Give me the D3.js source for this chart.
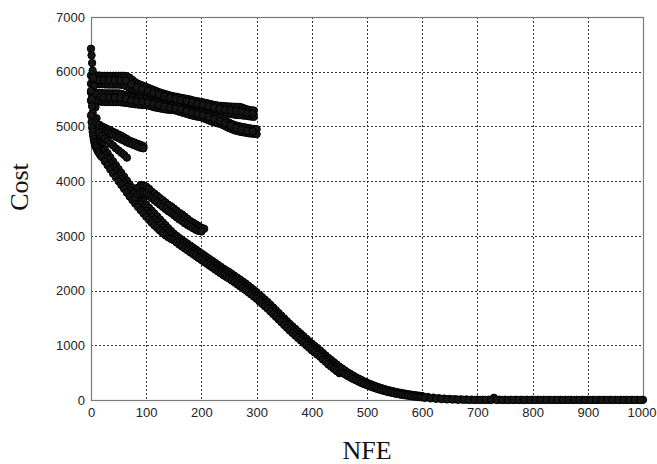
<!DOCTYPE html>
<html>
<head>
<meta charset="utf-8">
<script src="https://d3js.org/d3.v7.min.js"></script>
<style>
  body { margin: 0; background: #fff; }
  svg { display: block; }
  .tick text { font-family: Arial, 'Liberation Sans', sans-serif; font-size: 13px; fill: #222; }
  .label { font-family: 'Times New Roman', 'Liberation Serif', serif; font-size: 26px; fill: #111; }
</style>
</head>
<body>
<svg id="chart" width="657" height="464"></svg>
<script>
  var xTicks = [0, 100, 200, 300, 400, 500, 600, 700, 800, 900, 1000]
  var yTicks = [0, 1000, 2000, 3000, 4000, 5000, 6000, 7000]

  // main descending runs (NFE shared)
  var nfeMain = [0, 1, 2, 3, 4, 5, 6, 7, 8, 10, 12, 14, 16, 18, 20,
    25, 30, 35, 40, 45, 50, 55, 60, 65, 70,
    75, 80, 85, 90, 95, 100, 105, 110, 115, 120,
    125, 130, 135, 140, 145, 150, 155, 160, 165, 170,
    175, 180, 185, 190, 195, 200, 205, 210, 215, 220,
    225, 230, 235, 240, 245, 250, 255, 260, 265, 270,
    275, 280, 285, 290, 295, 300, 305, 310, 315, 320,
    325, 330, 335, 340, 345, 350, 355, 360, 365, 370,
    375, 380, 385, 390, 395, 400, 405, 410, 415, 420,
    425, 430, 435, 440, 445, 450]
  var costMainA = [6420, 6300, 6160, 6020, 5880, 5740, 5600, 5470, 5350, 5150, 5000, 4890, 4800, 4730, 4660,
    4585, 4510, 4435, 4360, 4290, 4220, 4150, 4080, 4010, 3940,
    3875, 3810, 3750, 3690, 3630, 3570, 3515, 3460, 3405, 3355,
    3300, 3245, 3195, 3140, 3090, 3040, 3000, 2960, 2925, 2890,
    2855, 2820, 2785, 2750, 2715, 2680, 2645, 2610, 2575, 2540,
    2505, 2470, 2435, 2400, 2370, 2340, 2305, 2270, 2235, 2200,
    2165, 2130, 2090, 2050, 2010, 1970, 1925, 1880, 1835, 1790,
    1740, 1690, 1640, 1590, 1540, 1490, 1440, 1390, 1345, 1300,
    1255, 1210, 1165, 1120, 1075, 1030, 990, 950, 905, 860,
    815, 770, 730, 690, 650, 610]
  var costMainB = [5650, 5500, 5370, 5250, 5140, 5040, 4960, 4890, 4830, 4740, 4680, 4630, 4600, 4570, 4550,
    4475, 4400, 4325, 4250, 4180, 4110, 4040, 3970, 3900, 3830,
    3765, 3700, 3640, 3580, 3520, 3460, 3405, 3350, 3300, 3250,
    3200, 3150, 3105, 3060, 3020, 2980, 2940, 2900, 2865, 2830,
    2795, 2760, 2725, 2690, 2655, 2620, 2585, 2550, 2515, 2480,
    2445, 2410, 2375, 2340, 2310, 2280, 2245, 2210, 2175, 2140,
    2105, 2070, 2030, 1990, 1950, 1910, 1865, 1820, 1775, 1730,
    1680, 1630, 1580, 1530, 1480, 1430, 1380, 1330, 1285, 1240,
    1195, 1150, 1105, 1060, 1015, 970, 930, 890, 840, 790,
    745, 700, 660, 620, 580, 540]
  var costMainC = [5200, 5080, 4980, 4900, 4830, 4770, 4720, 4680, 4640, 4600, 4550, 4520, 4490, 4460, 4440,
    4365, 4290, 4215, 4140, 4070, 4000, 3930, 3860, 3790, 3720,
    3655, 3590, 3530, 3470, 3410, 3350, 3295, 3240, 3190, 3145,
    3095, 3050, 3010, 2975, 2945, 2920, 2880, 2840, 2805, 2770,
    2735, 2700, 2665, 2630, 2595, 2560, 2525, 2490, 2455, 2420,
    2385, 2350, 2315, 2280, 2250, 2220, 2185, 2150, 2115, 2080,
    2045, 2010, 1970, 1930, 1890, 1850, 1805, 1760, 1715, 1670,
    1620, 1570, 1520, 1470, 1420, 1370, 1320, 1270, 1225, 1180,
    1135, 1090, 1045, 1000, 955, 910, 870, 830, 790, 740,
    700, 650, 610, 570, 530, 490]

  // tail after 450
  var nfeTailD = [455, 460, 465, 470, 475, 480, 485, 490, 495, 500,
    505, 510, 515, 520, 525, 530, 535, 540, 545, 550,
    555, 560, 565, 570, 575, 580, 585, 590, 595, 600,
    610, 620, 630, 640, 650, 660, 670, 680, 690, 700,
    710, 720, 730, 740, 750, 760, 770, 780, 790, 800,
    810, 820, 830, 840, 850, 860, 870, 880, 890, 900,
    910, 920, 930, 940, 950, 960, 970, 980, 990, 1000]
  var costTailD = [575, 540, 505, 475, 445, 415, 390, 365, 340, 315,
    295, 275, 255, 237, 220, 205, 190, 177, 165, 153,
    142, 132, 123, 114, 106, 98, 91, 84, 78, 72,
    56, 44, 34, 26, 20, 15, 12, 9, 7, 6,
    5, 5, 40, 5, 4, 4, 4, 4, 4, 4,
    4, 4, 3, 3, 3, 3, 3, 3, 3, 3,
    3, 3, 3, 3, 3, 3, 3, 3, 3, 3]
  var nfeTailE = [455, 460, 465, 470, 475, 480, 485, 490, 495, 500,
    505, 510, 515, 520, 525, 530, 535, 540, 545, 550,
    555, 560, 565, 570, 575, 580, 585, 590, 595, 600]
  var costTailE = [500, 470, 440, 410, 385, 360, 335, 312, 290, 270,
    250, 232, 215, 198, 183, 168, 155, 143, 131, 120,
    110, 100, 92, 84, 77, 70, 64, 58, 53, 48]
  var nfeTailF = [605, 615, 625, 635, 645, 655, 665, 675, 685, 695,
    705, 715, 725, 735, 745, 755, 765, 775, 785, 795,
    805, 815, 825, 835, 845, 855, 865, 875, 885, 895,
    905, 915, 925, 935, 945, 955, 965, 975, 985, 995]
  var costTailF = [40, 30, 22, 16, 11, 8, 5, 3, 2, 1,
    1, 1, 1, 1, 0, 0, 0, 0, 0, 0,
    0, 0, 0, 0, 0, 0, 0, 0, 0, 0,
    0, 0, 0, 0, 0, 0, 0, 0, 0, 0]

  // upper band, stalls near 5000-6000
  var nfeTop = [0, 5, 10, 15, 20, 25, 30, 35, 40, 45,
    50, 55, 60, 65, 70, 75, 80, 85, 90, 95,
    100, 105, 110, 115, 120, 125, 130, 135, 140, 145,
    150, 155, 160, 165, 170, 175, 180, 185, 190, 195,
    200, 205, 210, 215, 220, 225, 230, 235, 240, 245,
    250, 255, 260, 265, 270, 275, 280, 285, 290, 295,
    300]
  var costTop1 = [5930, 5930, 5930, 5930, 5925, 5925, 5925, 5925, 5925, 5925,
    5925, 5925, 5925, 5915, 5890, 5850, 5810, 5780, 5760, 5740,
    5720, 5700, 5680, 5660, 5640, 5620, 5605, 5590, 5575, 5560,
    5550, 5540, 5530, 5520, 5510, 5500, 5490, 5475, 5465, 5455,
    5446, 5435, 5425, 5410, 5400, 5390, 5380, 5376, 5372, 5368,
    5365, 5362, 5360, 5358, 5356, 5340, 5320, 5305, 5296, 5290,
    null]
  var costTop2 = [5780, 5775, 5770, 5770, 5770, 5768, 5766, 5765, 5765, 5765,
    5765, 5760, 5750, 5730, 5700, 5680, 5660, 5645, 5630, 5620,
    5610, 5590, 5570, 5550, 5535, 5520, 5505, 5490, 5480, 5472,
    5467, 5455, 5440, 5425, 5410, 5400, 5390, 5380, 5370, 5360,
    5352, 5340, 5325, 5310, 5295, 5280, 5270, 5265, 5255, 5245,
    5235, 5225, 5215, 5210, 5206, 5200, 5195, 5188, 5180, 5175,
    null]
  var costTop3 = [5620, 5615, 5610, 5610, 5608, 5606, 5605, 5605, 5605, 5605,
    5605, 5595, 5580, 5565, 5550, 5535, 5525, 5515, 5508, 5503,
    5500, 5485, 5470, 5455, 5440, 5425, 5410, 5400, 5390, 5386,
    5383, 5370, 5355, 5340, 5325, 5310, 5300, 5290, 5278, 5268,
    5258, 5245, 5230, 5215, 5195, 5180, 5165, 5155, 5130, 5100,
    5070, 5045, 5025, 5010, 5000, 4990, 4980, 4970, 4960, 4955,
    4950]
  var costTop4 = [5470, 5465, 5460, 5455, 5450, 5448, 5446, 5445, 5445, 5445,
    5445, 5440, 5435, 5428, 5420, 5413, 5406, 5400, 5395, 5392,
    5390, 5380, 5365, 5350, 5340, 5330, 5320, 5312, 5305, 5302,
    5300, 5285, 5270, 5255, 5240, 5225, 5210, 5196, 5185, 5175,
    5164, 5145, 5125, 5105, 5085, 5070, 5055, 5044, 5020, 4995,
    4970, 4950, 4930, 4915, 4904, 4895, 4885, 4875, 4870, 4865,
    4860]
  // runs in between, sampled at the other half-steps
  var nfeTopMid = [3, 13, 23, 33, 43, 53, 63, 73, 83, 93,
    103, 113, 123, 133, 143, 153, 163, 173, 183, 193,
    203, 213, 223, 233, 243, 253, 263, 273, 283, 293]
  var costTop5 = [5855, 5850, 5848, 5846, 5845, 5845, 5835, 5770, 5715, 5680,
    5655, 5615, 5585, 5550, 5520, 5500, 5485, 5465, 5440, 5410,
    5395, 5370, 5345, 5325, 5310, 5300, 5285, 5270, 5250, 5235]
  var costTop6 = [5545, 5535, 5528, 5525, 5525, 5520, 5505, 5475, 5460, 5450,
    5440, 5415, 5390, 5360, 5345, 5330, 5310, 5280, 5250, 5225,
    5205, 5175, 5140, 5100, 5060, 5010, 4970, 4940, 4920, 4910]

  // side branches
  var nfeB1 = [10, 15, 20, 25, 30, 35, 40, 45, 50, 55, 60, 65, 70, 75, 80, 85, 90, 95]
  var costB1a = [5060, 5030, 5000, 4975, 4950, 4930, 4900, 4880, 4850, 4830, 4800, 4770, 4740, 4720, 4700, 4680, 4660, 4640]
  var costB1b = [null, 4960, 4940, 4910, 4890, 4860, 4840, 4810, 4790, 4760, 4740, 4710, 4690, 4670, 4650, 4630, 4610, 4600]
  var nfeB2 = [15, 20, 25, 30, 35, 40, 45, 50, 55, 60, 65]
  var costB2 = [4880, 4830, 4780, 4740, 4690, 4650, 4600, 4560, 4520, 4480, 4430]
  var nfeB3 = [80, 85, 90, 95, 100, 105, 110, 115, 120, 125, 130, 135, 140,
    145, 150, 155, 160, 165, 170, 175, 180, 185, 190, 195, 200, 205]
  var costB3a = [3800, 3880, 3930, 3920, 3900, 3860, 3810, 3770, 3730, 3690, 3650, 3610, 3570,
    3540, 3500, 3460, 3420, 3390, 3350, 3310, 3270, 3240, 3210, 3180, 3150, 3130]
  var costB3b = [3700, 3760, 3790, 3790, 3770, 3730, 3690, 3650, 3610, 3570, 3530, 3490, 3450,
    3420, 3380, 3340, 3300, 3270, 3230, 3200, 3170, 3140, 3110, 3090, 3080, null]

  var runs = [
    [nfeTop, costTop1], [nfeTop, costTop2], [nfeTop, costTop3], [nfeTop, costTop4],
    [nfeTopMid, costTop5], [nfeTopMid, costTop6],
    [nfeMain, costMainA], [nfeMain, costMainB], [nfeMain, costMainC],
    [nfeB1, costB1a], [nfeB1, costB1b], [nfeB2, costB2],
    [nfeB3, costB3a], [nfeB3, costB3b],
    [nfeTailD, costTailD], [nfeTailE, costTailE], [nfeTailF, costTailF]
  ]

  //
  // Layout
  //
  var width = 657, height = 464
  var margin = { top: 17, right: 14, bottom: 64, left: 91 }
  var svg = d3.select('#chart')

  var x = d3.scaleLinear().domain([0, 1000]).range([margin.left, width - margin.right])
  var y = d3.scaleLinear().domain([0, 7000]).range([height - margin.bottom, margin.top])

  // dotted grid
  var grid = svg.append('g')
    .attr('stroke', '#333')
    .attr('stroke-width', 1)
    .attr('stroke-dasharray', '2,2')
  grid.selectAll('.gx').data(xTicks.slice(1, -1)).join('line')
    .attr('x1', d => Math.round(x(d)) + 0.5).attr('x2', d => Math.round(x(d)) + 0.5)
    .attr('y1', y(7000)).attr('y2', y(0))
  grid.selectAll('.gy').data(yTicks.slice(1, -1)).join('line')
    .attr('y1', d => Math.round(y(d)) + 0.5).attr('y2', d => Math.round(y(d)) + 0.5)
    .attr('x1', x(0)).attr('x2', x(1000))

  // frame
  svg.append('rect')
    .attr('x', x(0) + 0.5).attr('y', y(7000) + 0.5)
    .attr('width', x(1000) - x(0)).attr('height', y(0) - y(7000))
    .attr('fill', 'none')
    .attr('stroke', '#7a7a7a')
    .attr('stroke-width', 1.2)

  // markers: rings so dense they read as a solid band
  var pts = []
  runs.forEach(function (r) {
    r[0].forEach(function (n, i) {
      var c = r[1][i]
      if (c != null) pts.push([n, c])
    })
  })
  svg.append('g')
    .attr('fill', '#161616')
    .attr('stroke', '#000')
    .attr('stroke-width', 1)
    .selectAll('circle').data(pts).join('circle')
    .attr('cx', d => x(d[0]))
    .attr('cy', d => y(d[1]))
    .attr('r', 3.7)

  // tick labels
  var fmt = d3.format('d')
  svg.append('g')
    .attr('transform', 'translate(0,' + y(0) + ')')
    .call(d3.axisBottom(x).tickValues(xTicks).tickFormat(fmt).tickSize(0).tickPadding(8))
    .call(g => g.select('.domain').remove())
    .call(g => g.selectAll('.tick:last-of-type text').attr('dx', -1.5))
  svg.append('g')
    .attr('transform', 'translate(' + x(0) + ',0)')
    .call(d3.axisLeft(y).tickValues(yTicks).tickFormat(fmt).tickSize(0).tickPadding(6))
    .call(g => g.select('.domain').remove())

  // axis titles
  svg.append('text').attr('class', 'label')
    .attr('x', (x(0) + x(1000)) / 2).attr('y', 459)
    .attr('text-anchor', 'middle')
    .text('NFE')
  svg.append('text').attr('class', 'label')
    .attr('transform', 'translate(28,187) rotate(-90)')
    .attr('text-anchor', 'middle')
    .text('Cost')
</script>
</body>
</html>
